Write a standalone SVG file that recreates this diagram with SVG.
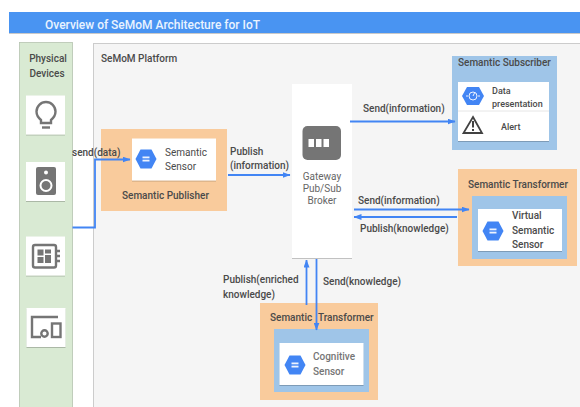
<svg xmlns="http://www.w3.org/2000/svg" width="580" height="407" viewBox="0 0 580 407">
<defs>
<filter id="sh" x="-10%" y="-10%" width="120%" height="120%"><feDropShadow dx="0" dy="0.7" stdDeviation="0.7" flood-color="#000" flood-opacity="0.3"/></filter>
<marker id="arr" markerWidth="8" markerHeight="6" refX="7.500" refY="3" orient="auto" markerUnits="userSpaceOnUse"><path d="M0,0 L8,3 L0,6 Z" fill="#4285f4"/></marker>
<g id="hex"><path d="M-10.500,0 L-5.500,-9.500 L5.500,-9.500 L10.500,0 L5.500,9.500 L-5.500,9.500 Z" fill="#4285f4"/><rect x="-3.500" y="-2.500" width="7" height="1.800" fill="#fff" fill-opacity="0.9"/><rect x="-3.500" y="0.700" width="7" height="1.800" fill="#fff" fill-opacity="0.9"/></g>
</defs>
<style>
text{font-family:"Roboto","Liberation Sans",sans-serif;fill:#4a4a4a;font-size:10px}
.b{font-weight:500}
.card{fill:#fff;filter:url(#sh)}
.or{fill:#f9cb9c}
.bl{fill:#9fc5e8}
.c{stroke:#4285f4;stroke-width:1.800;fill:none}
.ic{fill:none;stroke:#757575;stroke-width:2.400}
.f{fill:#757575}
</style>
<rect width="580" height="407" fill="#fff"/>
<g id="title"><rect x="9" y="12" width="571" height="21" fill="#4a94f2" filter="url(#sh)"/><text x="45" y="28.500" class="b" style="font-size:12px;fill:#eaf3ff" textLength="215">Overview of SeMoM Architecture for IoT</text></g>
<g id="physical-devices">
<rect x="19.500" y="42.500" width="53" height="365" fill="#d9ead3" stroke="#b5c4b0" stroke-width="0.800"/>
<text x="48" y="62" text-anchor="middle" class="b">Physical</text><text x="47" y="77" text-anchor="middle" class="b">Devices</text>
<g id="device-bulb"><rect x="26" y="95.500" width="39" height="39" class="card"/>
<path d="M41,120 C38,117.500 36.500,114.500 36.500,111.500 A9.500,9.500 0 0 1 55.500,111.500 C55.500,114.500 54,117.500 51,120 V123 H41 Z" class="ic"/><path d="M42,127.500 H50" class="ic"/></g>
<g id="device-speaker"><rect x="26" y="162" width="39" height="39" class="card"/>
<rect x="36" y="167" width="20" height="28" rx="2" class="f"/><circle cx="46" cy="172.500" r="2" fill="#fff"/><circle cx="46" cy="185.500" r="5.500" fill="none" stroke="#fff" stroke-width="2"/></g>
<g id="device-board"><rect x="26" y="236.500" width="39" height="39" class="card"/>
<rect x="33" y="245" width="23" height="22.500" rx="2" class="ic"/><rect x="37.500" y="249.500" width="6" height="6" class="f"/><rect x="45" y="249.500" width="6" height="4" class="f"/><rect x="37.500" y="257" width="6" height="6" class="f"/><rect x="45" y="255" width="6" height="8" class="f"/><path d="M56,251 H60 M56,256 H60 M56,261 H60" class="ic"/></g>
<g id="device-screens"><rect x="26.500" y="308" width="39" height="39" class="card"/>
<path d="M58,317 H32 V337 H41" class="ic"/><rect x="52" y="323.500" width="8.500" height="13.500" class="ic"/><circle cx="44.500" cy="333.500" r="3.200" class="ic"/></g>
</g>
<g id="platform"><rect x="93.500" y="43.500" width="487" height="364" fill="#f5f5f5" stroke="#cccccc"/><text x="101" y="62" class="b">SeMoM Platform</text></g>
<g id="semantic-publisher"><rect x="101" y="129" width="126" height="82" class="or"/>
<rect x="132" y="138.500" width="84" height="42" class="card"/><use href="#hex" x="146" y="159"/>
<text x="165" y="156">Semantic</text><text x="165" y="170">Sensor</text>
<text x="122" y="199" class="b">Semantic Publisher</text></g>
<g id="gateway"><rect x="292" y="84" width="60" height="174" class="card"/>
<rect x="302.500" y="126" width="38.500" height="34" rx="5" class="f"/><rect x="308.500" y="139" width="5.500" height="8" fill="#fff"/><rect x="316" y="139" width="5.500" height="8" fill="#fff"/><rect x="323.500" y="139" width="5.500" height="8" fill="#fff"/>
<text x="322" y="180" text-anchor="middle" style="fill:#666">Gateway</text><text x="322" y="192" text-anchor="middle" style="fill:#666">Pub/Sub</text><text x="322" y="204" text-anchor="middle" style="fill:#666">Broker</text></g>
<g id="semantic-subscriber"><rect x="452" y="56" width="105" height="94" class="bl"/>
<text x="458" y="66" class="b">Semantic Subscriber</text>
<rect x="458" y="82" width="91" height="59" class="card"/><line x1="458" y1="111" x2="549" y2="111" stroke="#e0e0e0" stroke-width="0.800"/>
<path d="M462,96 L467,87 L479,87 L484,96 L479,105 L467,105 Z" fill="#4285f4"/><circle cx="473" cy="96" r="4" fill="none" stroke="#fff" stroke-width="0.900"/><path d="M466,96 H468 M478,96 H480 M473,96 L474.500,93" stroke="#fff" stroke-width="0.900"/>
<text x="492" y="94" class="b" style="font-size:9px">Data</text><text x="492" y="107" class="b" style="font-size:9px">presentation</text>
<path d="M473,117 L482,133 H463.500 Z" fill="none" stroke="#424242" stroke-width="1.800"/><rect x="472" y="121" width="2" height="6.500" fill="#424242"/><rect x="472" y="129" width="2" height="2" fill="#424242"/>
<text x="501" y="130" class="b" style="font-size:9px">Alert</text></g>
<g id="semantic-transformer-1"><rect x="458" y="169" width="119" height="97" class="or"/>
<text x="468" y="188" class="b">Semantic Transformer</text>
<rect x="472" y="196" width="95" height="63" class="bl"/><rect x="478" y="209" width="84" height="42" class="card"/><use href="#hex" x="493" y="231"/>
<text x="512" y="219" class="b">Virtual</text><text x="512" y="234" class="b">Semantic</text><text x="512" y="248" class="b">Sensor</text></g>
<g id="semantic-transformer-2"><rect x="260" y="303" width="118" height="97" class="or"/>
<text x="270" y="321" class="b">Semantic</text><text x="318" y="321" class="b">Transformer</text>
<rect x="274" y="329" width="95" height="63" class="bl"/><rect x="279.500" y="343" width="84" height="42" class="card"/><use href="#hex" x="295" y="365"/>
<text x="313" y="360" style="fill:#757575" class="b">Cognitive</text><text x="313" y="375" style="fill:#757575" class="b">Sensor</text></g>
<g id="connectors">
<path d="M72.500,227.500 H95 V159.500 H130" class="c" marker-end="url(#arr)"/>
<path d="M228,175 H290" class="c" marker-end="url(#arr)"/>
<path d="M350,121.500 H455" class="c" marker-end="url(#arr)"/>
<path d="M354,209.500 H469" class="c" marker-end="url(#arr)"/>
<path d="M457,217 H354" class="c" marker-end="url(#arr)"/>
<path d="M306.500,305 V260" class="c" marker-end="url(#arr)"/>
<path d="M316.500,259 V330" class="c" marker-end="url(#arr)"/>
</g>
<g id="labels">
<text x="72" y="156" class="b">send(data)</text>
<text x="230" y="155" class="b">Publish</text><text x="230" y="169" class="b">(information)</text>
<text x="363" y="112" class="b">Send(information)</text>
<text x="358" y="204" class="b">Send(information)</text>
<text x="360" y="232" class="b">Publish(knowledge)</text>
<text x="223" y="283" class="b">Publish(enriched</text><text x="223" y="298" class="b">knowledge)</text>
<text x="323" y="285" class="b">Send(knowledge)</text>
</g>
</svg>
